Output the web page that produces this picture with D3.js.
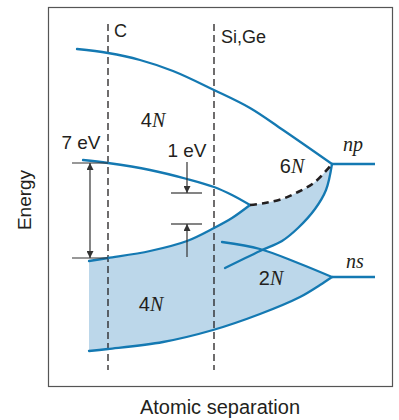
<!DOCTYPE html>
<html>
<head>
<meta charset="utf-8">
<script src="https://cdn.jsdelivr.net/npm/d3@7"></script>
<style>
  html, body { margin: 0; padding: 0; background: #fff; }
  svg { display: block; }
  text { font-family: "Liberation Sans", Arial, sans-serif; fill: #231f20; }
  .it { font-family: "Liberation Serif", "Times New Roman", serif; font-style: italic; }
</style>
</head>
<body>
<svg id="chart" width="399" height="420"></svg>
<script>
// ---- data (x = atomic separation, y = energy; arbitrary units) ----
const upperBandTop = [[29,337],[60,333],[92,326],[125,315],[166,296],[202,278],[235,256],[284,222]];
const gapTop       = [[35,226],[60,223],[102,216],[139,207],[166,199],[184,191],[202,181]];
const gapBottom    = [[41,125],[60,128],[102,135],[139,145],[166,158],[184,168],[202,181]];
const hybridDashed = [[202,181],[217,183],[234,187],[250,194],[267,204],[284,222]];
const pBandBottom  = [[284,222],[278,196],[267,177],[250,158],[234,145],[212,135],[177,118]];
const sBandTop     = [[174,144],[212,137],[250,123],[284,109]];
const lowerBandBottom = [[41,35],[60,37],[115,44],[165,56],[212,72],[252,89],[272,101],[284,109]];
const npLevel = [[284,222],[327,222]];
const nsLevel = [[284,109],[327,109]];
const separations = [{name:"C", x:60}, {name:"Si,Ge", x:166}];
const gap7eV = {x:42, top:223, bottom:128, barFrom:24, barTo:60, label:"7 eV"};
const gap1eV = {x:139, top:193, bottom:162, from:224, to:129, barFrom:123, barTo:154, label:"1 eV"};

// ---- scales ----
const W = 399, H = 420;
const frame = {l:48.5, t:7.5, r:392.5, b:386.5};
const x = d3.scaleLinear().domain([0, 344]).range([48, 392]);
const y = d3.scaleLinear().domain([0, 379]).range([386, 7]);

const svg = d3.select("#chart");
const line = d3.line().x(d => x(d[0])).y(d => y(d[1])).curve(d3.curveCatmullRom.alpha(0.5));
const straight = d3.line().x(d => x(d[0])).y(d => y(d[1]));

const BLUE = "#1479b2";
const FILL = "#bcd7ea";
const DARK = "#231f20";

// shaded region: below gap bottom + dashed, above lower band bottom
const fillPath = line(gapBottom) + line(hybridDashed).replace(/^M/, "L")
  + line(lowerBandBottom.slice().reverse()).replace(/^M/, "L") + "Z";
svg.append("path").attr("d", fillPath).attr("fill", FILL);

// white gap between p-band bottom and s-band top
const defs = svg.append("defs");
const p0 = pBandBottom[0], pN = pBandBottom[pBandBottom.length - 1];
defs.append("clipPath").attr("id", "rightOfP")
  .append("path")
  .attr("d", line(pBandBottom) + `L${x(pN[0])},${H}L${W},${H}L${W},0L${x(p0[0])},0Z`);
const s0 = sBandTop[0], sN = sBandTop[sBandTop.length - 1];
svg.append("path")
  .attr("d", line(sBandTop) + `L${W},${y(sN[1])}L${W},0L${x(s0[0])},0Z`)
  .attr("fill", "#fff")
  .attr("clip-path", "url(#rightOfP)");

// frame
svg.append("rect")
  .attr("x", frame.l).attr("y", frame.t)
  .attr("width", frame.r - frame.l).attr("height", frame.b - frame.t)
  .attr("fill", "none").attr("stroke", "#555").attr("stroke-width", 1.2);

// vertical dashed separation lines
svg.selectAll("line.sep").data(separations).join("line")
  .attr("class", "sep")
  .attr("x1", d => x(d.x)).attr("x2", d => x(d.x))
  .attr("y1", y(362)).attr("y2", y(16))
  .attr("stroke", DARK).attr("stroke-width", 1.3)
  .attr("stroke-dasharray", "7,4");

svg.selectAll("text.sep").data(separations).join("text")
  .attr("class", "sep")
  .attr("x", (d, i) => x(d.x) + (i === 0 ? 6 : 7))
  .attr("y", (d, i) => i === 0 ? 37 : 43)
  .attr("font-size", 18)
  .text(d => d.name);

// band curves
[upperBandTop, gapTop, gapBottom, pBandBottom, sBandTop, lowerBandBottom].forEach(c => {
  svg.append("path").attr("d", line(c)).attr("fill", "none")
    .attr("stroke", BLUE).attr("stroke-width", 2.3).attr("stroke-linecap", "round");
});
[npLevel, nsLevel].forEach(c => {
  svg.append("path").attr("d", straight(c)).attr("fill", "none")
    .attr("stroke", BLUE).attr("stroke-width", 2.3);
});
svg.append("path").attr("d", line(hybridDashed)).attr("fill", "none")
  .attr("stroke", DARK).attr("stroke-width", 2.6).attr("stroke-dasharray", "7,5");

// arrow marker
defs.append("marker").attr("id", "ah")
  .attr("viewBox", "0 0 10 10").attr("refX", 10).attr("refY", 5)
  .attr("markerWidth", 9).attr("markerHeight", 7).attr("markerUnits", "userSpaceOnUse")
  .attr("orient", "auto-start-reverse")
  .append("path").attr("d", "M0,0L10,5L0,10Z").attr("fill", "#333");

function hbar(x1, x2, yy) {
  svg.append("line").attr("x1", x(x1)).attr("x2", x(x2)).attr("y1", y(yy)).attr("y2", y(yy))
    .attr("stroke", "#333").attr("stroke-width", 1.2);
}
// 7 eV
hbar(gap7eV.barFrom, gap7eV.barTo, gap7eV.top);
hbar(gap7eV.barFrom, gap7eV.barTo, gap7eV.bottom);
svg.append("line")
  .attr("x1", x(gap7eV.x)).attr("x2", x(gap7eV.x))
  .attr("y1", y(gap7eV.top)).attr("y2", y(gap7eV.bottom))
  .attr("stroke", "#333").attr("stroke-width", 1.2)
  .attr("marker-start", "url(#ah)").attr("marker-end", "url(#ah)");
// 1 eV
hbar(gap1eV.barFrom, gap1eV.barTo, gap1eV.top);
hbar(gap1eV.barFrom, gap1eV.barTo, gap1eV.bottom);
svg.append("line")
  .attr("x1", x(gap1eV.x)).attr("x2", x(gap1eV.x))
  .attr("y1", y(gap1eV.from)).attr("y2", y(gap1eV.top))
  .attr("stroke", "#333").attr("stroke-width", 1.2).attr("marker-end", "url(#ah)");
svg.append("line")
  .attr("x1", x(gap1eV.x)).attr("x2", x(gap1eV.x))
  .attr("y1", y(gap1eV.to)).attr("y2", y(gap1eV.bottom))
  .attr("stroke", "#333").attr("stroke-width", 1.2).attr("marker-end", "url(#ah)");

// labels
svg.append("text").attr("x", 81).attr("y", 149).attr("font-size", 19)
  .attr("text-anchor", "middle").text(gap7eV.label);
svg.append("text").attr("x", 187).attr("y", 157).attr("font-size", 19)
  .attr("text-anchor", "middle").text(gap1eV.label);

function nLabel(cx, by, num) {
  const t = svg.append("text").attr("x", cx).attr("y", by).attr("font-size", 20)
    .attr("text-anchor", "middle");
  t.append("tspan").text(num);
  t.append("tspan").attr("class", "it").text("N");
}
nLabel(153, 127, "4");
nLabel(151, 311, "4");
nLabel(292, 173, "6");
nLabel(271, 285, "2");

svg.append("text").attr("class", "it").attr("x", 353).attr("y", 151).attr("font-size", 20)
  .attr("text-anchor", "middle").text("np");
svg.append("text").attr("class", "it").attr("x", 355).attr("y", 268).attr("font-size", 20)
  .attr("text-anchor", "middle").text("ns");

svg.append("text").attr("transform", "translate(31,200) rotate(-90)")
  .attr("font-size", 19).attr("text-anchor", "middle").text("Energy");
svg.append("text").attr("x", 220).attr("y", 414).attr("font-size", 20)
  .attr("text-anchor", "middle").text("Atomic separation");
</script>
</body>
</html>
